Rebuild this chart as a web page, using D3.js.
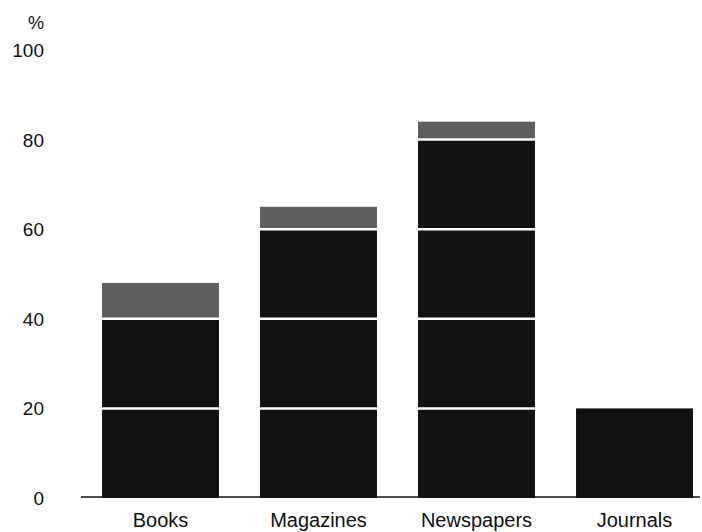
<!DOCTYPE html>
<html>
<head>
<meta charset="utf-8">
<script src="https://cdn.jsdelivr.net/npm/d3@7"></script>
<style>
  html, body { margin: 0; padding: 0; background: #fff; }
  svg { display: block; }
  text { font-family: "Liberation Sans", Arial, Helvetica, sans-serif; fill: #111; }
</style>
</head>
<body>
<svg id="chart" width="702" height="532"></svg>
<script>
const categories = ["Books", "Magazines", "Newspapers", "Journals"];
const values = [48, 65, 84, 20];
const yTicks = [0, 20, 40, 60, 80, 100];
const gridValues = [20, 40, 60, 80];
const unitLabel = "%";

const svg = d3.select("#chart");
const y = d3.scaleLinear().domain([0, 100]).range([498, 50]);
const x = d3.scaleBand().domain(categories).range([81.5, 713.5])
  .paddingInner(0.26).paddingOuter(0.13);

const barColor = "#111";
const topColor = "#5e5e5e";

// bars split into segments at gridline values
categories.forEach((c, i) => {
  const v = values[i];
  const bounds = [0].concat(gridValues.filter(g => g < v - 0.5)).concat([v]);
  const segs = d3.pairs(bounds);
  svg.selectAll(null).data(segs).enter().append("rect")
    .attr("x", x(c))
    .attr("width", x.bandwidth())
    .attr("y", d => y(d[1]))
    .attr("height", d => y(d[0]) - y(d[1]))
    .attr("fill", (d, j) => (j === segs.length - 1 && d[1] - d[0] < 20) ? topColor : barColor);
  // white grid lines across bar
  svg.selectAll(null).data(gridValues.filter(g => g < v - 0.5)).enter().append("line")
    .attr("x1", x(c)).attr("x2", x(c) + x.bandwidth())
    .attr("y1", d => y(d)).attr("y2", d => y(d))
    .attr("stroke", "#fff").attr("stroke-width", 2.5);
});

// x axis line
svg.append("line")
  .attr("x1", 81).attr("x2", 700)
  .attr("y1", y(0) - 1).attr("y2", y(0) - 1)
  .attr("stroke", "#111").attr("stroke-width", 1.5);

// y tick labels
svg.selectAll(".ytick").data(yTicks).enter().append("text")
  .attr("class", "ytick")
  .attr("x", 44)
  .attr("y", d => y(d) + 2)
  .attr("text-anchor", "end")
  .attr("dominant-baseline", "middle")
  .style("font-size", "19px")
  .text(d => d);

svg.append("text")
  .attr("x", 44).attr("y", 24)
  .attr("text-anchor", "end")
  .attr("dominant-baseline", "middle")
  .style("font-size", "18px")
  .text(unitLabel);

// category labels
svg.selectAll(".xlab").data(categories).enter().append("text")
  .attr("class", "xlab")
  .attr("x", d => x(d) + x.bandwidth() / 2)
  .attr("y", 522)
  .attr("text-anchor", "middle")
  .attr("dominant-baseline", "middle")
  .style("font-size", "20px")
  .text(d => d);
</script>
</body>
</html>
